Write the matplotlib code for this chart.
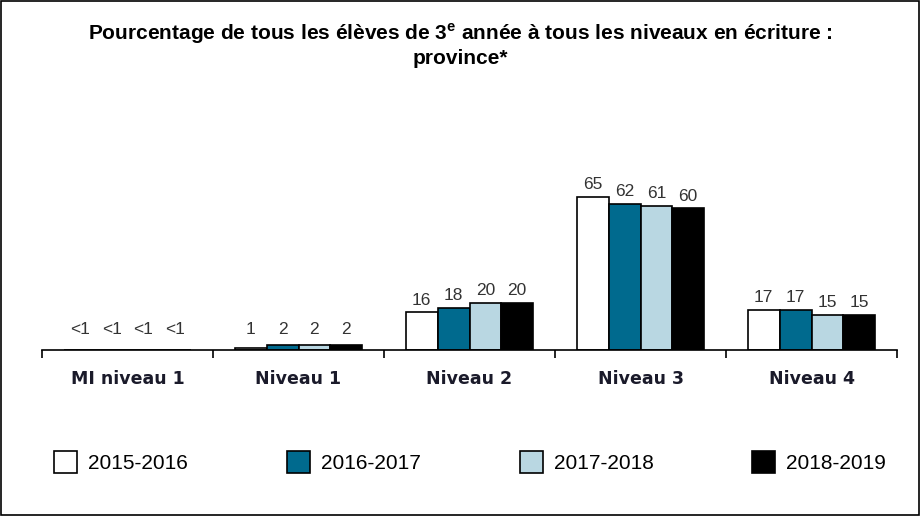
import numpy as np
import matplotlib.pyplot as plt
from matplotlib.patches import Rectangle

# données
categories = ['MI niveau 1', 'Niveau 1', 'Niveau 2', 'Niveau 3', 'Niveau 4']
annees = ['2015-2016', '2016-2017', '2017-2018', '2018-2019']
v_2015 = [0, 1, 16, 65, 17]
v_2016 = [0, 2, 18, 62, 17]
v_2017 = [0, 2, 20, 61, 15]
v_2018 = [0, 2, 20, 60, 15]
lbl_2015 = ['<1', '1', '16', '65', '17']
lbl_2016 = ['<1', '2', '18', '62', '17']
lbl_2017 = ['<1', '2', '20', '61', '15']
lbl_2018 = ['<1', '2', '20', '60', '15']

series = [v_2015, v_2016, v_2017, v_2018]
labels = [lbl_2015, lbl_2016, lbl_2017, lbl_2018]
couleurs = ['#ffffff', '#006a8e', '#b9d7e2', '#000000']

fig = plt.figure(figsize=(9.21, 5.16), dpi=100)
ax = fig.add_axes([42 / 921, 1 - 350 / 516, 855 / 921, 250 / 516])

x = np.arange(len(categories))
w = 0.186
handles = []
for i, (vals, lbls) in enumerate(zip(series, labels)):
    pos = x + (i - 1.5) * w
    b = ax.bar(pos, vals, w, color=couleurs[i], edgecolor='black', linewidth=1.2,
               label=annees[i])
    handles.append(b)
    for p, v, t in zip(pos, vals, lbls):
        # petites barres : étiquette un peu plus haut
        ax.text(p, max(v, 3.3) + 2.0, t, ha='center', va='bottom', fontsize=12.5,
                family='Liberation Sans', color='#333333')

ax.set_xlim(-0.5, len(categories) - 0.5)
ax.set_ylim(0, 106)
for s in ['top', 'right', 'left']:
    ax.spines[s].set_visible(False)
ax.spines['bottom'].set_linewidth(1.2)
ax.set_yticks([])
ax.set_xticks(np.arange(len(categories) + 1) - 0.5)
ax.set_xticklabels([])
ax.tick_params(axis='x', length=6, width=1.2, direction='out')
for xi, c in zip(x, categories):
    ax.text(xi, -12.5, c, ha='center', va='center', fontsize=12.5, fontweight='bold',
            color='#1a1a2a', clip_on=False)

fig.text(0.5, 1 - 34 / 516,
         'Pourcentage de tous les élèves de 3$^{\\mathregular{e}}$ année à tous les niveaux en écriture :',
         ha='center', va='center', fontsize=15, fontweight='bold', family='Liberation Sans')
fig.text(0.5, 1 - 58 / 516, 'province*', ha='center', va='center', fontsize=15,
         fontweight='bold', family='Liberation Sans')

fig.legend(handles=handles, labels=annees, loc='center left', ncol=4,
           bbox_to_anchor=(54 / 921, 1 - 462 / 516), frameon=False, borderpad=0,
           borderaxespad=0, prop={'family': 'Liberation Sans', 'size': 15},
           handlelength=1.1, handleheight=1.2, handletextpad=0.53, columnspacing=4.75)

fig.patches.append(Rectangle((0.001, 0.001), 0.997, 0.997, transform=fig.transFigure,
                             fill=False, edgecolor='black', linewidth=1.2))

fig.savefig('out.png', dpi=100)
